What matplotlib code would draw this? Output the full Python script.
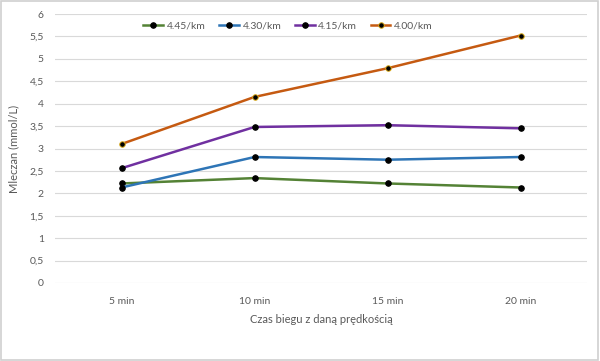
import matplotlib
matplotlib.use("Agg")
import matplotlib.pyplot as plt
from matplotlib.patches import Rectangle

categories = ["5 min", "10 min", "15 min", "20 min"]
series_names = ["4.45/km", "4.30/km", "4.15/km", "4.00/km"]
v_445 = [2.22, 2.34, 2.22, 2.13]
v_430 = [2.13, 2.81, 2.75, 2.81]
v_415 = [2.56, 3.48, 3.52, 3.45]
v_400 = [3.10, 4.15, 4.79, 5.52]
yticks = [0, 0.5, 1, 1.5, 2, 2.5, 3, 3.5, 4, 4.5, 5, 5.5, 6]
ytick_labels = ["0", "0,5", "1", "1,5", "2", "2,5", "3", "3,5", "4", "4,5", "5", "5,5", "6"]

colors = ["#548235", "#2E75B6", "#7030A0", "#C55A11"]
edge = ["#000000", "#000000", "#000000", "#E0B020"]

plt.rcParams['font.family'] = ['Lato', 'DejaVu Sans']
fig = plt.figure(figsize=(6, 3.61), dpi=100)
fig.patches.append(Rectangle((0.002, 0.003), 0.995, 0.994, transform=fig.transFigure,
                             fill=False, edgecolor="#D0D0D0", linewidth=1.2))
ax = fig.add_axes([55/600, 1-283/361, 532/600, 269/361])
x = list(range(len(categories)))
for vals, name, c, e in zip([v_445, v_430, v_415, v_400], series_names, colors, edge):
    ax.plot(x, vals, color=c, linewidth=1.8, marker="o", markersize=4,
            markerfacecolor="black", markeredgecolor=e, markeredgewidth=0.7, label=name)
ax.set_xlim(-0.5, 3.5)
ax.set_ylim(0, 6)
ax.set_yticks(yticks)
ax.set_yticklabels(ytick_labels)
ax.set_xticks(x)
ax.set_xticklabels(categories)
ax.grid(axis="y", color="#D9D9D9", linewidth=0.8)
ax.set_axisbelow(True)
for s in ax.spines.values():
    s.set_visible(False)
ax.tick_params(axis="both", length=0, labelsize=7.5, labelcolor="#595959")
ax.tick_params(axis="y", pad=8)
ax.tick_params(axis="x", pad=10)
ax.set_ylabel("Mleczan (mmol/L)", fontsize=8, color="#595959", labelpad=7)
ax.set_xlabel("Czas biegu z daną prędkością", fontsize=8, color="#595959", labelpad=6)
ax.legend(loc="upper center", bbox_to_anchor=(0.438, 1.0), ncol=4, frameon=False,
          fontsize=7.5, labelcolor="#595959", handlelength=1.9, handletextpad=0.35,
          columnspacing=1.3, borderaxespad=0.3)
fig.savefig("out.png", dpi=100)
